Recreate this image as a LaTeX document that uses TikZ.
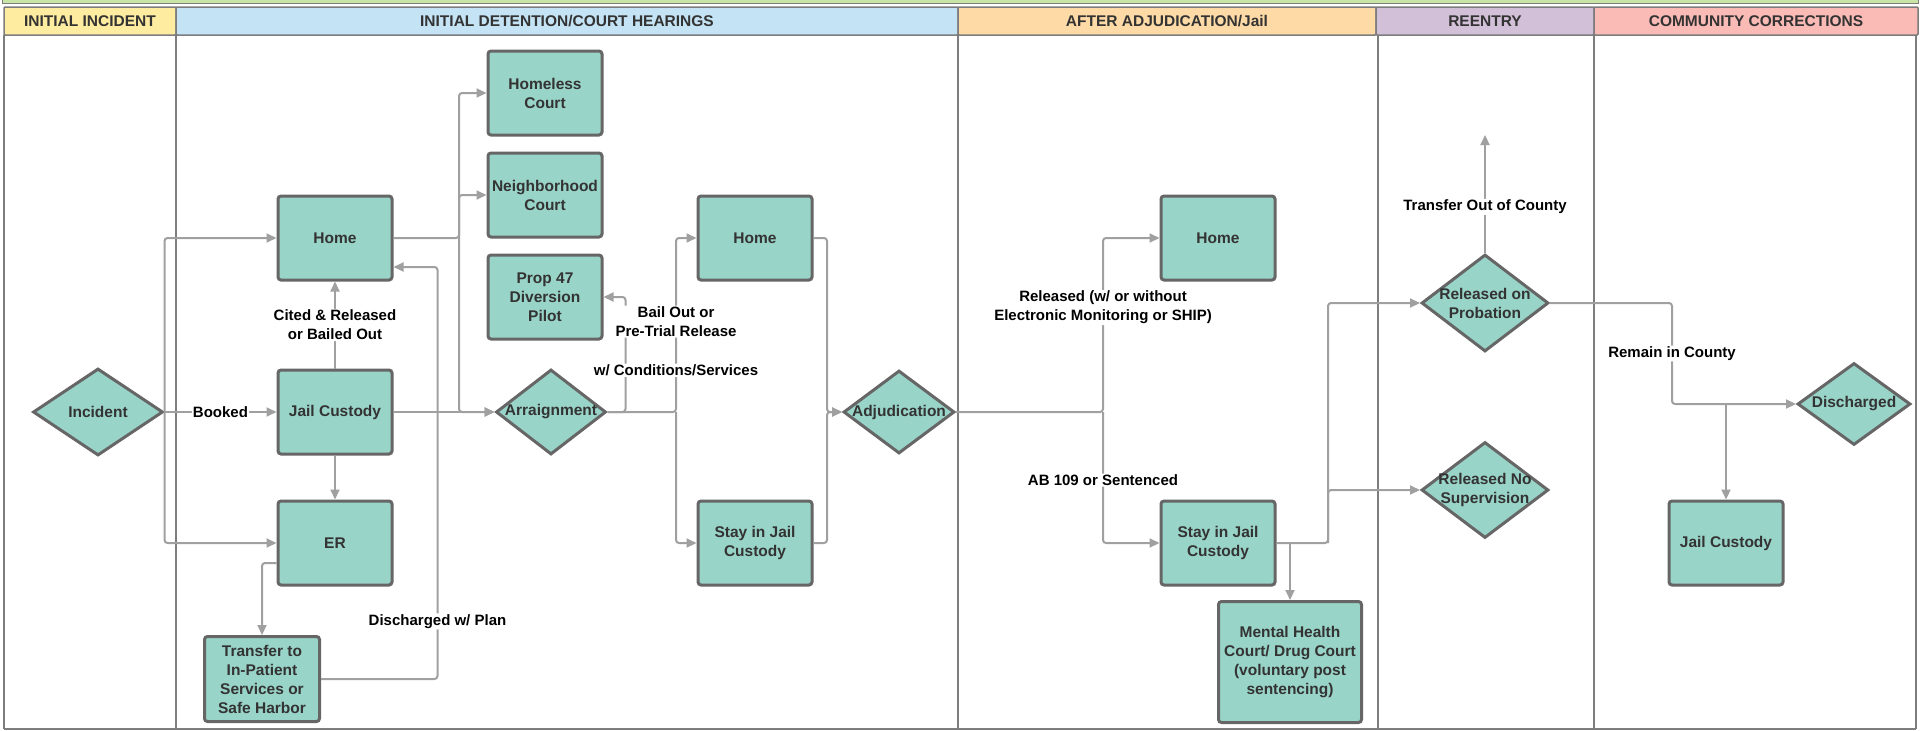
\documentclass[tikz,border=0pt]{standalone}
\usepackage{fontspec}
\setmainfont{Liberation Sans}
\usetikzlibrary{shapes.geometric,arrows.meta,calc}

\definecolor{boxfill}{RGB}{153,212,200}
\definecolor{boxline}{RGB}{102,102,102}
\definecolor{boxtext}{RGB}{51,51,51}
\definecolor{flowgray}{RGB}{160,160,160}
\definecolor{laneline}{RGB}{125,125,125}
\definecolor{hdgreen}{RGB}{200,228,166}
\definecolor{hdyellow}{RGB}{254,236,160}
\definecolor{hdblue}{RGB}{196,228,245}
\definecolor{hdorange}{RGB}{254,218,166}
\definecolor{hdpurple}{RGB}{210,192,216}
\definecolor{hdpink}{RGB}{250,186,182}

\begin{document}
\begin{tikzpicture}[x=1pt,y=-1pt,
    box/.style={draw=boxline, line width=3pt, fill=boxfill, rounded corners=3pt,
        minimum width=114pt, minimum height=84pt, inner sep=2pt, align=center,
        text=boxtext, font=\bfseries\fontsize{15.5}{19}\selectfont},
    decision/.style={diamond, draw=boxline, line width=3pt, fill=boxfill, inner sep=0pt},
    dtext/.style={align=center, inner sep=0pt, text=boxtext,
        font=\bfseries\fontsize{15.5}{19}\selectfont},
    flow/.style={draw=flowgray, line width=2pt, rounded corners=3pt,
        -{Triangle[length=10pt,width=9pt]}},
    lbl/.style={fill=white, inner sep=1pt, align=center,
        font=\bfseries\fontsize{15}{19}\selectfont},
    lane/.style={draw=laneline, line width=1.5pt},
    header/.style={draw=laneline, line width=1.5pt, rounded corners=1pt,
        minimum height=28pt, text=boxtext, font=\bfseries\fontsize{15.5}{17}\selectfont}
]
    \useasboundingbox (0,0) rectangle (1920,731);
    \fill[white] (0,0) rectangle (1920,731);

    % Lanes
    \draw[laneline, fill=hdgreen] (2,-3) rectangle (1918,3);
    \node[header, fill=hdyellow, minimum width=172pt] (hdinc) at (90,21) {INITIAL INCIDENT};
    \node[header, fill=hdblue, minimum width=782pt] (hddet) at (567,21) {INITIAL DETENTION/COURT HEARINGS};
    \node[header, fill=hdorange, minimum width=418pt] (hdadj) at (1167,21) {AFTER ADJUDICATION/Jail};
    \node[header, fill=hdpurple, minimum width=218pt] (hdre) at (1485,21) {REENTRY};
    \node[header, fill=hdpink, minimum width=324pt] (hdcom) at (1756,21) {COMMUNITY CORRECTIONS};
    \foreach \x in {4,176,958,1378,1594,1916}
        \draw[lane] (\x,35) -- (\x,729);
    \draw[lane] (4,729) -- (1916,729);

    % Initial incident and detention
    \node[decision, minimum width=130pt, minimum height=87pt, label={[dtext]center:Incident}] (incident) at (98,412) {};
    \node[box] (home1) at (335,238) {Home};
    \node[box] (jail1) at (335,412) {Jail Custody};
    \node[box] (er) at (335,543) {ER};
    \node[box, minimum width=115pt, minimum height=85pt] (transfer) at (262,679) {Transfer to\\In-Patient\\Services or\\Safe Harbor};

    % Court hearings
    \node[box] (homeless) at (545,93) {Homeless\\Court};
    \node[box] (neigh) at (545,195) {Neighborhood\\Court};
    \node[box] (prop) at (545,297) {Prop 47\\Diversion\\Pilot};
    \node[decision, minimum width=110pt, minimum height=85pt, label={[dtext]center:Arraignment}] (arr) at (551,412) {};
    \node[box] (home2) at (755,238) {Home};
    \node[box] (stay1) at (755,543) {Stay in Jail\\Custody};
    \node[decision, minimum width=111pt, minimum height=83pt, label={[dtext]center:Adjudication}] (adj) at (899,412) {};

    % After adjudication
    \node[box] (home3) at (1218,238) {Home};
    \node[box] (stay2) at (1218,543) {Stay in Jail\\Custody};
    \node[box, minimum width=143pt, minimum height=121pt] (mh) at (1290,662) {Mental Health\\Court/ Drug Court\\(voluntary post\\sentencing)};

    % Reentry and community corrections
    \node[decision, minimum width=127pt, minimum height=97pt, label={[dtext]center:{Released on\\Probation}}] (prob) at (1485,303) {};
    \node[decision, minimum width=127pt, minimum height=96pt, label={[dtext]center:{Released No\\Supervision}}] (nosup) at (1485,490) {};
    \node[decision, minimum width=113pt, minimum height=82pt, label={[dtext]center:Discharged}] (disch) at (1854,404) {};
    \node[box] (jail2) at (1726,543) {Jail Custody};

    % Connectors
    \draw[flow] (incident.east) -- node[lbl]{Booked} (jail1.west);
    \draw[flow] (incident.east) |- (home1.west);
    \draw[flow] (incident.east) |- (er.west);
    \draw[flow] (jail1.north) -- node[lbl]{Cited \& Released\\or Bailed Out} (home1.south);
    \draw[flow] (jail1.south) -- (er.north);
    \draw[flow] ([yshift=-20pt]er.west) -| (transfer.north);
    \draw[flow] (transfer.east) -| node[lbl, pos=0.57]{Discharged w/ Plan} ($(home1.east)+(44,29)$) -- ([yshift=-29pt]home1.east);

    \coordinate (br1) at (459,238);
    \draw[flow] (home1.east) -- (br1) |- (homeless.west);
    \draw[flow] (br1) |- (neigh.west);
    \draw[flow] (br1) |- (arr.west);
    \draw[flow] (jail1.east) -- (arr.west);

    \draw[flow] (arr.east) -| ($(prop.east)+(22,0)$) -- (prop.east);
    \coordinate (br3) at (676,412);
    \draw[flow] (arr.east) -- (br3) |- node[lbl, pos=0.12]{w/ Conditions/Services}
        node[lbl, pos=0.26]{Bail Out or\\Pre-Trial Release} (home2.west);
    \draw[flow] (br3) |- (stay1.west);

    \coordinate (adjin) at (827,412);
    \draw[flow] (home2.east) -| (adjin) -- (adj.west);
    \draw[flow] (stay1.east) -| (adjin) -- (adj.west);

    \coordinate (br4) at (1103,412);
    \draw[flow] (adj.east) -- (br4) |- node[lbl, pos=0.3]{Released (w/ or without\\Electronic Monitoring or SHIP)} (home3.west);
    \draw[flow] (br4) |- node[lbl, pos=0.26]{AB 109 or Sentenced} (stay2.west);

    \coordinate (br5) at (1328,543);
    \draw[flow] (stay2.east) -- (br5) |- (prob.west);
    \draw[flow] (br5) |- (nosup.west);
    \draw[flow] (stay2.east -| mh.north) -- (mh.north);

    \coordinate (out) at (1485,135);
    \draw[flow] (prob.north) -- node[lbl, pos=0.39]{Transfer Out of County} (out);

    \coordinate (br6) at (1672,404);
    \draw[flow] (prob.east) -| node[lbl, pos=0.75]{Remain in County} (br6) -- (disch.west);
    \draw[flow] (br6 -| jail2.north) -- (jail2.north);
\end{tikzpicture}
\end{document}
